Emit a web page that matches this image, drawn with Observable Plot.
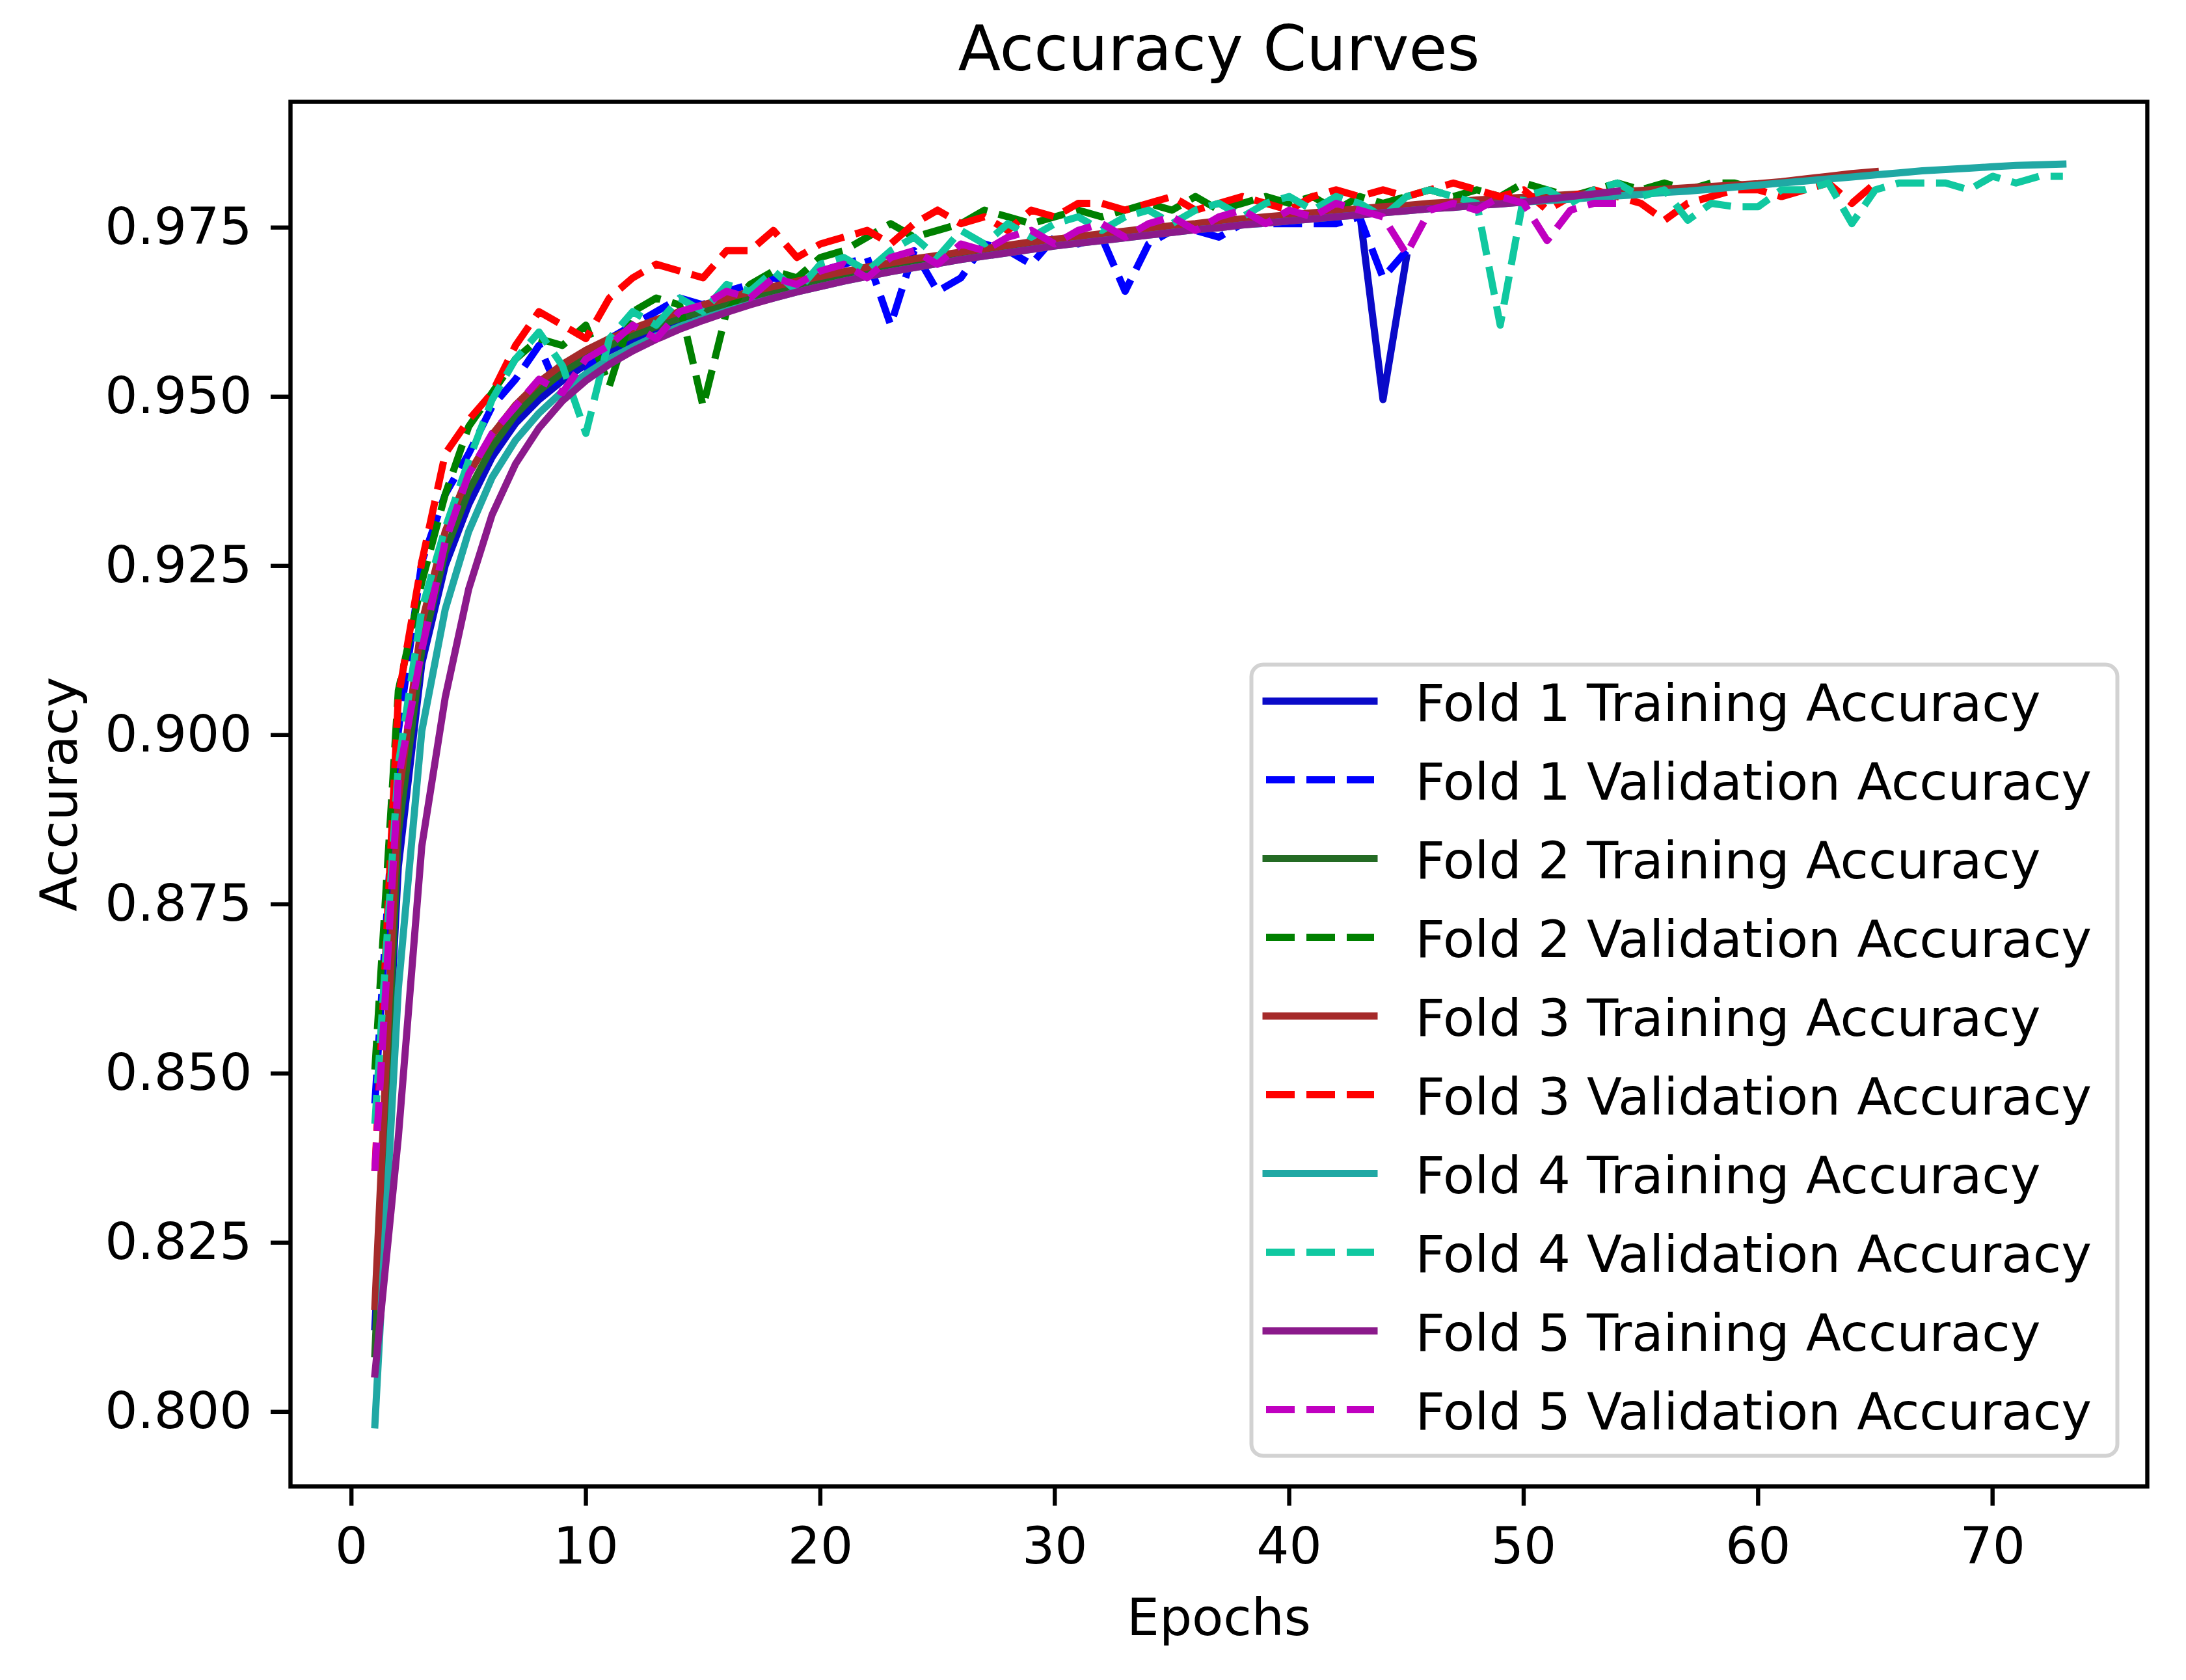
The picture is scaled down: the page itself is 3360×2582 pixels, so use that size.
<!DOCTYPE html>
<html>
<head>
<meta charset="utf-8">
<script src="https://cdn.jsdelivr.net/npm/d3@7"></script>
<script src="https://cdn.jsdelivr.net/npm/@observablehq/plot@0.6"></script>
<style>
  html, body { margin: 0; padding: 0; background: #ffffff; overflow: hidden; }
  #wrap { position: relative; width: 3360px; height: 2582px; }
  #legend { position: absolute; left: 1920px; top: 1018px; }
</style>
</head>
<body>
<div id="wrap"><div id="main"></div><div id="legend"></div></div>
<script>
// ---------------- data (value at epoch = index + 1) ----------------
const fold1Train = [0.812,0.880,0.910,0.9245,0.9335,0.9405,0.9455,0.9490,0.9518,0.9542,0.9562,0.9578,0.9592,0.9605,0.9617,0.9628,0.9638,0.9647,0.9656,0.9664,0.9671,0.9678,0.9685,0.9691,0.9697,0.9703,0.9708,0.9713,0.9718,0.9723,0.9727,0.9731,0.9735,0.9739,0.9743,0.9746,0.9750,0.9753,0.9756,0.9759,0.9762,0.9765,0.9768,0.949,0.970];
const fold1Val   = [0.845,0.900,0.925,0.935,0.941,0.948,0.952,0.957,0.949,0.953,0.958,0.960,0.962,0.964,0.963,0.965,0.966,0.967,0.966,0.968,0.969,0.970,0.960,0.971,0.965,0.967,0.972,0.971,0.969,0.973,0.972,0.973,0.965,0.972,0.974,0.974,0.973,0.975,0.975,0.975,0.975,0.975,0.976,0.967,0.971];
const fold2Train = [0.808,0.885,0.912,0.9265,0.9355,0.9420,0.9468,0.9503,0.9530,0.9552,0.9570,0.9585,0.9598,0.9610,0.9621,0.9631,0.9640,0.9649,0.9657,0.9665,0.9672,0.9679,0.9686,0.9692,0.9698,0.9703,0.9708,0.9713,0.9718,0.9723,0.9727,0.9731,0.9735,0.9739,0.9743,0.9747,0.9750,0.9754,0.9757,0.9760,0.9763,0.9766,0.9769,0.9772,0.9775,0.9777,0.9780,0.9782,0.9785,0.9787,0.9789,0.9791,0.9793,0.9795,0.9797,0.9799,0.9801,0.9803,0.9805,0.9807];
const fold2Val   = [0.850,0.906,0.922,0.935,0.945,0.950,0.955,0.958,0.957,0.960,0.951,0.962,0.964,0.963,0.948,0.962,0.966,0.968,0.967,0.970,0.971,0.973,0.975,0.973,0.974,0.975,0.977,0.976,0.975,0.976,0.977,0.976,0.977,0.978,0.977,0.979,0.977,0.978,0.979,0.978,0.979,0.977,0.979,0.978,0.979,0.980,0.979,0.980,0.979,0.981,0.980,0.979,0.980,0.981,0.980,0.981,0.980,0.981,0.981,0.980];
const fold3Train = [0.815,0.890,0.916,0.9295,0.9380,0.9438,0.9482,0.9516,0.9542,0.9563,0.9580,0.9595,0.9608,0.9620,0.9630,0.9640,0.9649,0.9657,0.9665,0.9672,0.9679,0.9686,0.9692,0.9698,0.9703,0.9708,0.9713,0.9718,0.9723,0.9727,0.9731,0.9735,0.9739,0.9743,0.9747,0.9750,0.9754,0.9757,0.9760,0.9763,0.9766,0.9769,0.9772,0.9775,0.9777,0.9780,0.9782,0.9785,0.9787,0.9789,0.9791,0.9793,0.9795,0.9797,0.9799,0.9801,0.9803,0.9805,0.9807,0.9809,0.9812,0.9816,0.9820,0.9824,0.9827];
const fold3Val   = [0.835,0.905,0.925,0.941,0.946,0.950,0.957,0.962,0.960,0.958,0.964,0.967,0.969,0.968,0.967,0.971,0.971,0.974,0.970,0.972,0.973,0.974,0.972,0.975,0.977,0.975,0.976,0.974,0.977,0.976,0.978,0.978,0.977,0.978,0.979,0.977,0.978,0.979,0.978,0.977,0.979,0.980,0.979,0.980,0.979,0.980,0.981,0.980,0.979,0.980,0.977,0.979,0.980,0.979,0.978,0.9755,0.978,0.979,0.980,0.980,0.979,0.980,0.981,0.978,0.981];
const fold4Train = [0.7975,0.862,0.900,0.918,0.9295,0.9375,0.9430,0.9470,0.9502,0.9528,0.9550,0.9568,0.9584,0.9598,0.9610,0.9621,0.9631,0.9640,0.9649,0.9657,0.9665,0.9672,0.9679,0.9685,0.9691,0.9697,0.9702,0.9707,0.9712,0.9717,0.9721,0.9725,0.9729,0.9733,0.9737,0.9741,0.9744,0.9748,0.9751,0.9754,0.9757,0.9760,0.9763,0.9766,0.9769,0.9772,0.9774,0.9777,0.9779,0.9782,0.9784,0.9786,0.9789,0.9791,0.9793,0.9796,0.9798,0.9801,0.9804,0.9807,0.9810,0.9813,0.9816,0.9819,0.9822,0.9825,0.9828,0.9830,0.9832,0.9834,0.9836,0.9837,0.9838];
const fold4Val   = [0.842,0.895,0.918,0.930,0.940,0.949,0.955,0.959,0.954,0.944,0.958,0.962,0.960,0.964,0.962,0.966,0.965,0.968,0.965,0.969,0.970,0.968,0.971,0.973,0.970,0.974,0.972,0.975,0.973,0.975,0.976,0.974,0.976,0.977,0.975,0.977,0.978,0.976,0.978,0.979,0.977,0.979,0.978,0.976,0.979,0.980,0.979,0.978,0.960,0.979,0.980,0.978,0.980,0.981,0.979,0.980,0.9755,0.978,0.9775,0.9775,0.980,0.980,0.981,0.975,0.980,0.981,0.981,0.981,0.980,0.982,0.981,0.982,0.982];
const fold5Train = [0.805,0.840,0.883,0.905,0.921,0.932,0.9395,0.9448,0.9488,0.9518,0.9542,0.9562,0.9579,0.9594,0.9607,0.9619,0.9630,0.9640,0.9649,0.9657,0.9665,0.9672,0.9679,0.9685,0.9691,0.9697,0.9702,0.9707,0.9712,0.9717,0.9721,0.9725,0.9729,0.9733,0.9737,0.9741,0.9744,0.9748,0.9751,0.9754,0.9757,0.9760,0.9763,0.9766,0.9769,0.9772,0.9774,0.9777,0.9779,0.9782,0.9786,0.9790,0.9794,0.9798];
const fold5Val   = [0.835,0.893,0.912,0.928,0.938,0.944,0.948,0.952,0.950,0.955,0.957,0.960,0.958,0.962,0.963,0.965,0.964,0.967,0.966,0.968,0.969,0.967,0.970,0.971,0.969,0.972,0.971,0.973,0.974,0.972,0.974,0.975,0.973,0.975,0.976,0.974,0.976,0.977,0.975,0.977,0.976,0.978,0.977,0.976,0.9705,0.977,0.978,0.977,0.979,0.978,0.9725,0.977,0.978,0.978];

const seriesNames = [
  "Fold 1 Training Accuracy", "Fold 1 Validation Accuracy",
  "Fold 2 Training Accuracy", "Fold 2 Validation Accuracy",
  "Fold 3 Training Accuracy", "Fold 3 Validation Accuracy",
  "Fold 4 Training Accuracy", "Fold 4 Validation Accuracy",
  "Fold 5 Training Accuracy", "Fold 5 Validation Accuracy"
];
const seriesValues = [fold1Train, fold1Val, fold2Train, fold2Val, fold3Train, fold3Val, fold4Train, fold4Val, fold5Train, fold5Val];
const seriesColors = ["#0a0ac8", "#0000ff", "#246b24", "#008000", "#a52a2a", "#ff0000", "#20a8a4", "#10c8a0", "#8b1a8b", "#c000c0"];
const seriesDashed = [false, true, false, true, false, true, false, true, false, true];

const xTicks = [0, 10, 20, 30, 40, 50, 60, 70];
const yTicks = [0.800, 0.825, 0.850, 0.875, 0.900, 0.925, 0.950, 0.975];
const titleText = "Accuracy Curves";
const xLabelText = "Epochs";
const yLabelText = "Accuracy";

// ---------------- styling ----------------
const FONT = "DejaVu Sans";
const LW = 11;
const DASH = "44,18";

const lineMarks = seriesValues.map((vals, k) =>
  Plot.line(vals.map((v, i) => ({epoch: i + 1, acc: v})), {
    x: "epoch", y: "acc",
    stroke: seriesColors[k],
    strokeWidth: LW,
    strokeDasharray: seriesDashed[k] ? DASH : null,
    strokeLinecap: seriesDashed[k] ? "butt" : "square",
    strokeLinejoin: "round"
  })
);

const main = Plot.plot({
  width: 3360,
  height: 2582,
  marginLeft: 446,
  marginRight: 60,
  marginTop: 156,
  marginBottom: 298,
  style: {fontFamily: FONT, fontSize: "79px", background: "#ffffff", color: "#000000"},
  x: {domain: [-2.6, 76.6]},
  y: {domain: [0.7884, 0.9930]},
  marks: [
    ...lineMarks,
    Plot.frame({stroke: "#000000", strokeWidth: 6.4}),
    Plot.axisX(xTicks, {tickSize: 30, tickPadding: 32, fontSize: 79, strokeWidth: 6.4, tickFormat: d => String(d), label: null}),
    Plot.axisY(yTicks, {tickSize: 30, tickPadding: 29, fontSize: 79, strokeWidth: 6.4, dy: 6, tickFormat: d3.format(".3f"), label: null}),
    Plot.text([titleText], {frameAnchor: "top", dy: -79, fontSize: 96, textAnchor: "middle", lineAnchor: "middle", fill: "#000000"}),
    Plot.text([xLabelText], {frameAnchor: "bottom", dy: 203, fontSize: 79, textAnchor: "middle", lineAnchor: "middle", fill: "#000000"}),
    Plot.text([yLabelText], {frameAnchor: "left", dx: -354, rotate: -90, fontSize: 79, textAnchor: "middle", lineAnchor: "middle", fill: "#000000"})
  ]
});
document.getElementById("main").appendChild(main);

// ---------------- legend (second Plot overlaid in the axes) ----------------
const solidNames = seriesNames.filter((_, k) => !seriesDashed[k]);
const dashedNames = seriesNames.filter((_, k) => seriesDashed[k]);
const colorOf = name => seriesColors[seriesNames.indexOf(name)];

const legend = Plot.plot({
  width: 1337,
  height: 1222,
  marginLeft: 0, marginRight: 0, marginTop: 0, marginBottom: 0,
  style: {fontFamily: FONT, fontSize: "79px", background: "transparent", color: "#000000", overflow: "visible"},
  x: {domain: [0, 1], range: [26, 192], axis: null},
  y: {type: "point", domain: seriesNames, range: [59, 1148], padding: 0, axis: null},
  marks: [
    Plot.frame({fill: "#ffffff", fillOpacity: 0.8, stroke: "#d2d2d2", strokeWidth: 6, inset: 3, rx: 18, ry: 18}),
    Plot.ruleY(solidNames, {y: d => d, x1: 0, x2: 1, stroke: colorOf, strokeWidth: LW, strokeLinecap: "square"}),
    Plot.ruleY(dashedNames, {y: d => d, x1: 0, x2: 1, stroke: colorOf, strokeWidth: LW, strokeDasharray: DASH, strokeLinecap: "butt"}),
    Plot.text(seriesNames, {y: d => d, frameAnchor: "left", dx: 255, dy: 5, textAnchor: "start", lineAnchor: "middle", fontSize: 79, fill: "#000000"})
  ]
});
document.getElementById("legend").appendChild(legend);
</script>
</body>
</html>
